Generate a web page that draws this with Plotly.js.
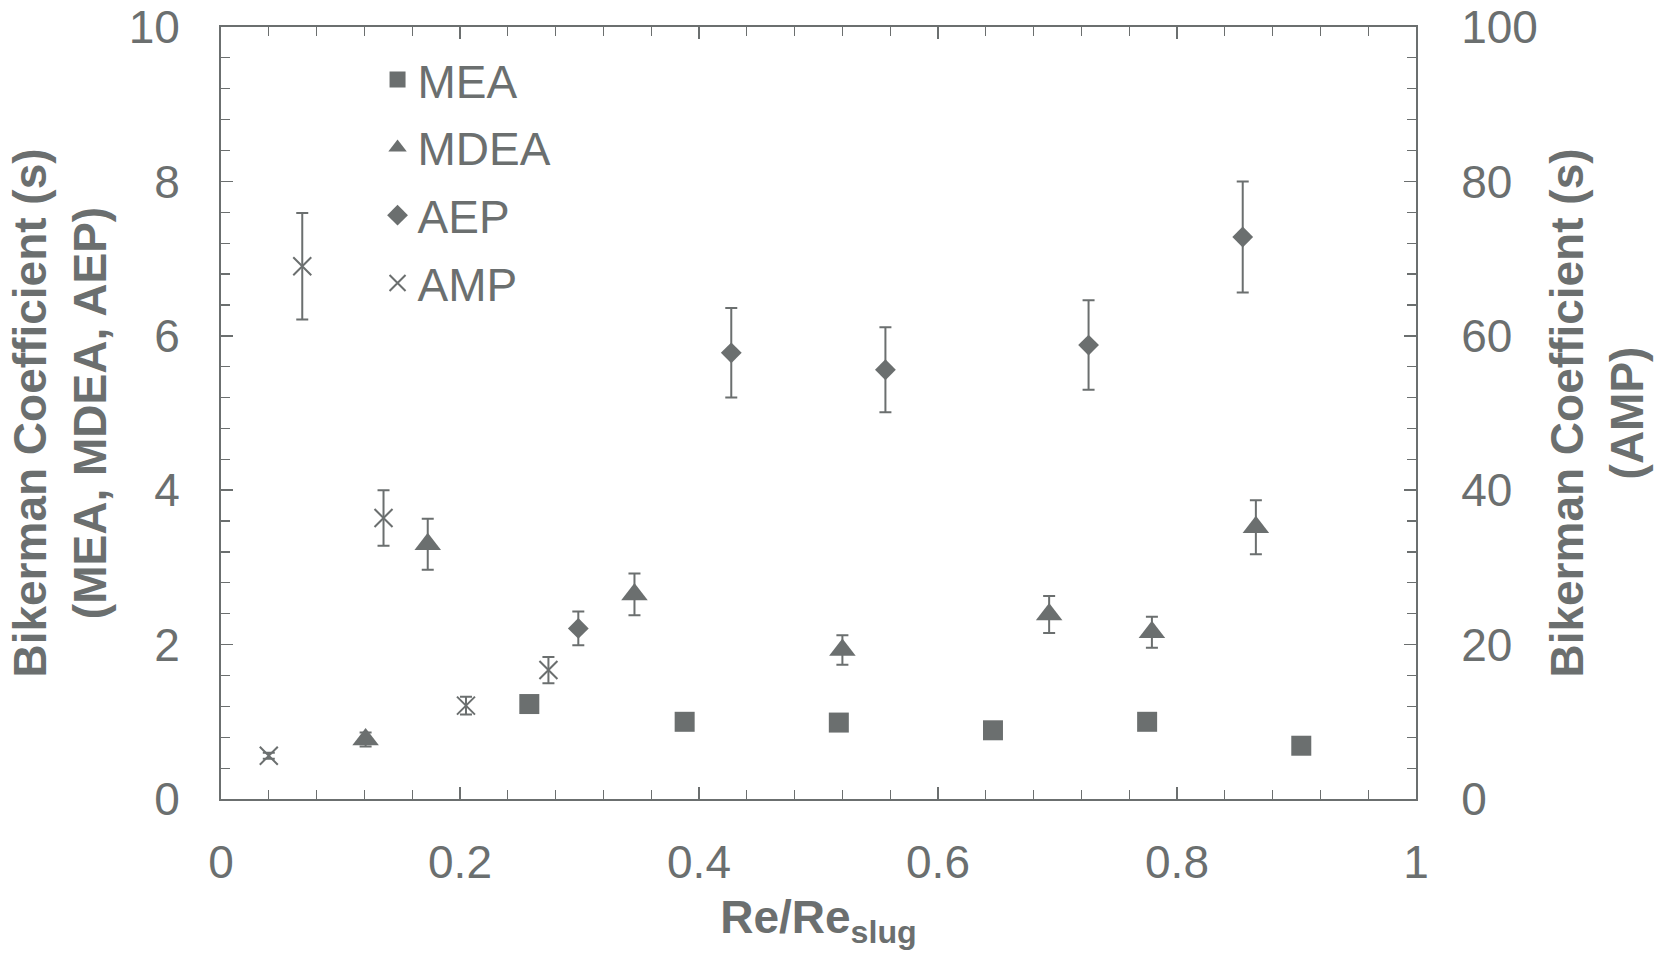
<!DOCTYPE html>
<html>
<head>
<meta charset="utf-8">
<script src="https://cdn.plot.ly/plotly-3.0.1.min.js"></script>
<style>html,body{margin:0;padding:0;background:#fff;}#chart{width:1671px;height:955px;}</style>
</head>
<body>
<div id="chart"></div>
<script>
// Data
const meaX = [0.258, 0.388, 0.517, 0.646, 0.775, 0.904];
const meaY = [1.23, 1.00, 0.99, 0.89, 1.00, 0.69];

const mdeaX = [0.121, 0.173, 0.346, 0.520, 0.693, 0.779, 0.866];
const mdeaY = [0.77, 3.30, 2.65, 1.93, 2.39, 2.16, 3.52];
const mdeaErr = [0.09, 0.33, 0.27, 0.19, 0.24, 0.20, 0.35];

const aepX = [0.299, 0.427, 0.556, 0.726, 0.855];
const aepY = [2.21, 5.78, 5.56, 5.88, 7.28];
const aepErr = [0.22, 0.58, 0.55, 0.58, 0.72];

const ampX = [0.040, 0.068, 0.136, 0.205, 0.274];
const ampY = [5.6, 69.0, 36.4, 12.1, 16.7];
const ampErr = [0.4, 6.9, 3.6, 1.15, 1.7];

const xTickVals = [0, 0.2, 0.4, 0.6, 0.8, 1];
const xTickText = ['0', '0.2', '0.4', '0.6', '0.8', '1'];
const yTickVals = [0, 2, 4, 6, 8, 10];
const y2TickVals = [0, 20, 40, 60, 80, 100];

const GRAY = '#6b6f6f';
const FONT = 'Liberation Sans, Arial, sans-serif';

function errBar(arr) {
  return {type: 'data', array: arr, visible: true, color: GRAY, thickness: 2, width: 6};
}

const traces = [
  {x: meaX, y: meaY, name: 'MEA', type: 'scatter', mode: 'markers', legendgroup: 'a',
   marker: {symbol: 'square', size: 20, color: GRAY}},
  {x: mdeaX, y: mdeaY, name: 'MDEA', type: 'scatter', mode: 'markers', legendgroup: 'b',
   error_y: errBar(mdeaErr),
   marker: {symbol: 'triangle-up', size: 23, color: GRAY}},
  {x: aepX, y: aepY, name: 'AEP', type: 'scatter', mode: 'markers', legendgroup: 'c',
   error_y: errBar(aepErr),
   marker: {symbol: 'diamond', size: 16, color: GRAY}},
  {x: ampX, y: ampY, name: 'AMP', type: 'scatter', mode: 'markers', yaxis: 'y2', legendgroup: 'd',
   error_y: errBar(ampErr),
   marker: {symbol: 'x-thin-open', size: 18, color: GRAY, line: {color: GRAY, width: 2}}}
];

const layout = {
  width: 1671, height: 955,
  paper_bgcolor: '#ffffff', plot_bgcolor: '#ffffff',
  margin: {l: 221, r: 255, t: 27, b: 156, pad: 0},
  font: {family: FONT, color: GRAY, size: 46},
  showlegend: true,
  legend: {x: 0.131, y: 0.979, xanchor: 'left', yanchor: 'top',
           bgcolor: 'rgba(0,0,0,0)', font: {size: 46, color: GRAY, family: FONT},
           traceorder: 'grouped', tracegroupgap: 5, itemsizing: 'trace'},
  xaxis: {
    range: [0, 1], tickvals: xTickVals, ticktext: xTickText,
    showgrid: false, zeroline: false,
    showline: true, linecolor: GRAY, linewidth: 2, mirror: 'ticks',
    ticks: 'inside', ticklen: 12, tickwidth: 1.5, tickcolor: GRAY,
    minor: {dtick: 0.04, ticks: 'inside', ticklen: 9, tickwidth: 1.2, tickcolor: GRAY, showgrid: false},
    tickfont: {size: 46, color: GRAY, family: FONT},
    ticklabelstandoff: 22,
    title: {text: '<b>Re/Re<sub>slug</sub></b>', font: {size: 46, color: GRAY, family: FONT}, standoff: 14}
  },
  yaxis: {
    range: [0, 10], tickvals: yTickVals,
    showgrid: false, zeroline: false,
    showline: true, linecolor: GRAY, linewidth: 2,
    ticks: 'inside', ticklen: 12, tickwidth: 1.5, tickcolor: GRAY,
    minor: {dtick: 0.4, ticks: 'inside', ticklen: 9, tickwidth: 1.2, tickcolor: GRAY, showgrid: false},
    tickfont: {size: 46, color: GRAY, family: FONT},
    ticklabelstandoff: 30,
    title: {text: '<b>Bikerman Coefficient (s)<br>(MEA, MDEA, AEP)</b>', font: {size: 46, color: GRAY, family: FONT}, standoff: 8}
  },
  yaxis2: {
    range: [0, 100], tickvals: y2TickVals, overlaying: 'y', side: 'right',
    showgrid: false, zeroline: false,
    showline: true, linecolor: GRAY, linewidth: 2,
    ticks: 'inside', ticklen: 12, tickwidth: 1.5, tickcolor: GRAY,
    minor: {dtick: 4, ticks: 'inside', ticklen: 9, tickwidth: 1.2, tickcolor: GRAY, showgrid: false},
    tickfont: {size: 46, color: GRAY, family: FONT},
    ticklabelstandoff: 34,
    title: {text: '<b>Bikerman Coefficient (s)<br>(AMP)</b>', font: {size: 46, color: GRAY, family: FONT}, standoff: 14}
  }
};

Plotly.newPlot('chart', traces, layout, {displayModeBar: false, staticPlot: true});
</script>
</body>
</html>
